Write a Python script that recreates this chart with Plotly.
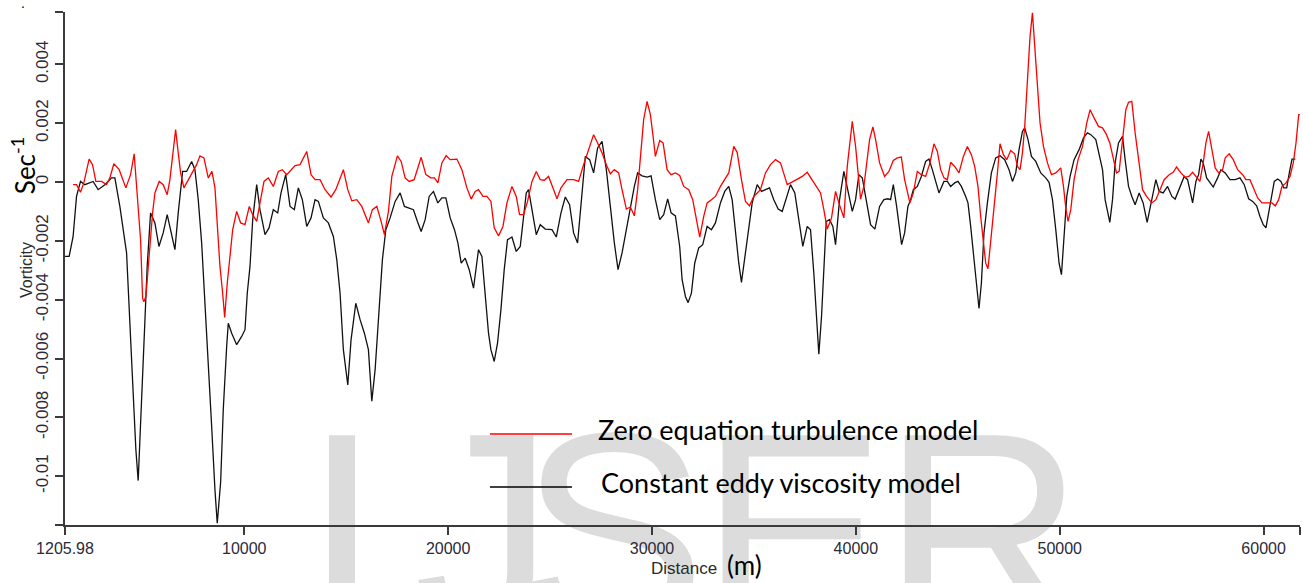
import plotly.graph_objects as go

# Vorticity (s^-1) along the reach, plotted against distance (m)
black_distance = [
    1206, 1408, 1604, 1771, 1967, 2179, 2586, 2832, 3161, 3490,
    3652, 3897, 4226, 4388, 4550, 4683, 4796, 4963, 5125, 5237,
    5404, 5616, 5812, 6023, 6219, 6436, 6598, 6760, 6976, 7172,
    7418, 7580, 7742, 7909, 8071, 8233, 8400, 8562, 8674, 8841,
    8969, 9136, 9215, 9382, 9627, 9873, 10035, 10147, 10280, 10413,
    10609, 10771, 11017, 11213, 11424, 11640, 11802, 12033, 12244, 12455,
    12652, 12848, 13064, 13275, 13472, 13634, 13879, 14125, 14370, 14537,
    14699, 14861, 15077, 15239, 15470, 15681, 15892, 16089, 16256, 16418,
    16550, 16663, 16776, 16943, 17154, 17400, 17645, 17856, 18087, 18298,
    18494, 18676, 18873, 19069, 19280, 19496, 19693, 19889, 20100, 20311,
    20478, 20640, 20837, 21033, 21244, 21490, 21657, 21819, 21981, 22098,
    22260, 22422, 22589, 22751, 22913, 23130, 23341, 23537, 23670, 23832,
    23945, 24112, 24323, 24519, 24765, 25094, 25305, 25535, 25747, 25958,
    26154, 26350, 26532, 26729, 26940, 27136, 27332, 27549, 27760, 27956,
    28152, 28334, 28531, 28742, 28938, 29134, 29296, 29513, 29758, 29954,
    30166, 30377, 30573, 30769, 30936, 31148, 31359, 31477, 31639, 31771,
    31933, 32095, 32292, 32488, 32704, 32915, 33112, 33357, 33568, 33765,
    33932, 34094, 34256, 34388, 34585, 34747, 34914, 35159, 35370, 35567,
    35763, 35974, 36190, 36387, 36632, 36794, 37005, 37172, 37398, 37614,
    37776, 37938, 38071, 38184, 38316, 38429, 38547, 38709, 38871, 39004,
    39200, 39411, 39578, 39824, 39986, 40148, 40315, 40511, 40722, 40933,
    41164, 41375, 41571, 41704, 41837, 41999, 42112, 42244, 42391, 42553,
    42686, 42819, 43015, 43211, 43423, 43585, 43752, 43914, 44076, 44321,
    44488, 44650, 44846, 45008, 45175, 45387, 45499, 45632, 45765, 45878,
    45961, 46040, 46157, 46285, 46452, 46648, 46860, 47071, 47301, 47513,
    47680, 47842, 48004, 48171, 48283, 48445, 48612, 48824, 49069, 49315,
    49477, 49644, 49806, 49968, 50085, 50213, 50346, 50508, 50704, 50950,
    51166, 51362, 51524, 51770, 51932, 52099, 52226, 52359, 52457, 52590,
    52717, 52884, 53081, 53208, 53375, 53537, 53699, 53896, 54092, 54288,
    54470, 54716, 54878, 55074, 55290, 55501, 55663, 55894, 56105, 56272,
    56518, 56680, 56812, 56925, 57038, 57205, 57367, 57529, 57745, 57907,
    58118, 58349, 58609, 58840, 59051, 59267, 59464, 59660, 59822, 59984,
    60117, 60249, 60362, 60524, 60691, 60853, 60986, 61133, 61261, 61393,
    61555,
]
black_vorticity = [
    -2.53e-3, -2.53e-3, -1.85e-3, -0.49e-3, 0.02e-3, -0.09e-3, 0.02e-3, -0.26e-3, -0.09e-3, 0.14e-3,
    0.14e-3, -0.83e-3, -2.41e-3, -4.57e-3, -7.17e-3, -9.1e-3, -10.15e-3, -7.4e-3, -4.57e-3, -2.87e-3,
    -1.05e-3, -1.39e-3, -2.19e-3, -1.73e-3, -1.11e-3, -1.73e-3, -2.3e-3, -1.05e-3, 0.36e-3, 0.36e-3,
    0.70e-3, 0.42e-3, -0.60e-3, -2.07e-3, -4.0e-3, -6.04e-3, -8.31e-3, -10.47e-3, -11.6e-3, -10.2e-3,
    -7.74e-3, -5.59e-3, -4.80e-3, -5.14e-3, -5.53e-3, -5.25e-3, -5.02e-3, -3.78e-3, -2.87e-3, -1.28e-3,
    -0.09e-3, -0.94e-3, -1.79e-3, -1.56e-3, -0.94e-3, -1.05e-3, -0.37e-3, 0.25e-3, -0.83e-3, -0.94e-3,
    -0.20e-3, -0.60e-3, -1.51e-3, -1.22e-3, -0.60e-3, -0.66e-3, -1.22e-3, -1.39e-3, -1.85e-3, -2.64e-3,
    -3.78e-3, -5.70e-3, -6.9e-3, -5.36e-3, -4.12e-3, -4.68e-3, -5.14e-3, -5.70e-3, -7.45e-3, -6.38e-3,
    -4.91e-3, -3.78e-3, -2.64e-3, -1.62e-3, -1.22e-3, -0.66e-3, -0.37e-3, -0.83e-3, -0.88e-3, -0.94e-3,
    -1.34e-3, -1.68e-3, -1.28e-3, -0.49e-3, -0.32e-3, -0.71e-3, -0.54e-3, -0.54e-3, -1.22e-3, -1.62e-3,
    -2.07e-3, -2.76e-3, -2.59e-3, -2.98e-3, -3.61e-3, -2.30e-3, -2.53e-3, -3.89e-3, -5.14e-3, -5.70e-3,
    -6.1e-3, -5.48e-3, -4.34e-3, -2.98e-3, -1.96e-3, -1.87e-3, -2.36e-3, -2.19e-3, -1.28e-3, -0.37e-3,
    -0.26e-3, -0.94e-3, -1.79e-3, -1.45e-3, -1.60e-3, -1.62e-3, -1.87e-3, -1.05e-3, -0.51e-3, -0.77e-3,
    -1.73e-3, -2.07e-3, -0.60e-3, 0.87e-3, 0.76e-3, 0.31e-3, 1.16e-3, 1.38e-3, 0.42e-3, -0.83e-3,
    -2.07e-3, -2.98e-3, -2.41e-3, -1.62e-3, -0.83e-3, -0.15e-3, 0.31e-3, 0.21e-3, 0.17e-3, 0.21e-3,
    -0.60e-3, -1.28e-3, -1.11e-3, -0.57e-3, -1.05e-3, -1.15e-3, -2.2e-3, -3.32e-3, -3.89e-3, -4.1e-3,
    -3.78e-3, -2.76e-3, -2.24e-3, -2.13e-3, -1.51e-3, -1.62e-3, -1.39e-3, -0.71e-3, -0.32e-3, -0.15e-3,
    -0.60e-3, -1.73e-3, -2.76e-3, -3.41e-3, -2.41e-3, -1.51e-3, -0.71e-3, -0.09e-3, -0.32e-3, -0.26e-3,
    -0.20e-3, -0.60e-3, -0.92e-3, -1.0e-3, -0.49e-3, -0.09e-3, -0.37e-3, -1.17e-3, -2.19e-3, -1.51e-3,
    -1.62e-3, -3.10e-3, -4.68e-3, -5.85e-3, -4.57e-3, -2.98e-3, -1.34e-3, -1.28e-3, -1.51e-3, -2.13e-3,
    -0.60e-3, 0.36e-3, -0.15e-3, -1.0e-3, -0.60e-3, 0.25e-3, 0.14e-3, -0.60e-3, -1.45e-3, -1.60e-3,
    -0.83e-3, -0.60e-3, -0.57e-3, -0.60e-3, -0.09e-3, -0.83e-3, -1.51e-3, -2.13e-3, -1.73e-3, -0.83e-3,
    -0.60e-3, -0.26e-3, -0.15e-3, 0.19e-3, 0.70e-3, 0.78e-3, 0.42e-3, 0.02e-3, -0.37e-3, 0.02e-3,
    0.02e-3, -0.15e-3, -0.03e-3, 0.02e-3, -0.15e-3, -0.49e-3, -0.71e-3, -1.51e-3, -2.41e-3, -3.21e-3,
    -3.78e-3, -4.3e-3, -3.44e-3, -1.73e-3, -0.71e-3, 0.31e-3, 0.82e-3, 0.89e-3, 0.76e-3, 0.42e-3,
    0.02e-3, 0.31e-3, 1.10e-3, 1.72e-3, 1.84e-3, 1.44e-3, 0.87e-3, 0.70e-3, 0.31e-3, 0.14e-3,
    -0.01e-3, -0.60e-3, -1.62e-3, -2.76e-3, -3.15e-3, -1.96e-3, -0.49e-3, 0.19e-3, 0.76e-3, 1.10e-3,
    1.50e-3, 1.67e-3, 1.61e-3, 1.44e-3, 0.99e-3, 0.42e-3, -0.60e-3, -1.05e-3, -1.37e-3, -0.60e-3,
    0.65e-3, 1.33e-3, 1.55e-3, 0.76e-3, -0.15e-3, -0.49e-3, -0.77e-3, -0.37e-3, -0.71e-3, -1.37e-3,
    -0.71e-3, 0.08e-3, -0.32e-3, -0.37e-3, -0.15e-3, -0.49e-3, -0.58e-3, -0.20e-3, 0.19e-3, 0.08e-3,
    -0.71e-3, 0.02e-3, 0.25e-3, 0.78e-3, 0.65e-3, 0.14e-3, -0.03e-3, -0.17e-3, 0.14e-3, 0.42e-3,
    0.31e-3, 0.08e-3, 0.08e-3, 0.14e-3, -0.09e-3, -0.57e-3, -0.66e-3, -0.81e-3, -1.17e-3, -1.45e-3,
    -1.56e-3, -1.05e-3, -0.49e-3, 0.02e-3, 0.10e-3, 0.02e-3, -0.20e-3, -0.20e-3, 0.31e-3, 0.78e-3,
    0.78e-3,
]

red_distance = [
    1604, 1771, 1967, 2129, 2390, 2557, 2719, 2998, 3244, 3406,
    3602, 3863, 4192, 4422, 4599, 4796, 4913, 5012, 5075, 5174,
    5336, 5503, 5616, 5827, 6023, 6219, 6352, 6514, 6632, 6760,
    6877, 7039, 7300, 7496, 7663, 7825, 8021, 8233, 8414, 8562,
    8674, 8807, 8940, 9038, 9165, 9332, 9431, 9627, 9823, 10035,
    10246, 10413, 10609, 10771, 10967, 11179, 11424, 11670, 11866, 12082,
    12293, 12490, 12735, 13064, 13275, 13472, 13717, 13963, 14257, 14488,
    14861, 15077, 15274, 15519, 15765, 16089, 16285, 16501, 16712, 16874,
    17071, 17238, 17512, 17694, 17891, 18087, 18332, 18676, 18907, 19152,
    19329, 19496, 19693, 19904, 20100, 20429, 20675, 20920, 21131, 21328,
    21490, 21706, 21902, 22098, 22260, 22472, 22688, 22884, 23130, 23341,
    23503, 23699, 23895, 24112, 24323, 24519, 24715, 24927, 25143, 25339,
    25535, 25830, 26154, 26400, 26616, 26841, 27136, 27332, 27549, 27760,
    27956, 28152, 28364, 28531, 28742, 28938, 29134, 29296, 29463, 29591,
    29758, 29920, 30053, 30166, 30377, 30544, 30740, 30936, 31148, 31359,
    31555, 31801, 31997, 32164, 32341, 32537, 32704, 32915, 33112, 33357,
    33568, 33765, 34010, 34177, 34388, 34585, 34781, 34992, 35321, 35567,
    35812, 36058, 36303, 36465, 36632, 36843, 37074, 37369, 37614, 37860,
    38105, 38267, 38429, 38596, 38807, 39004, 39166, 39411, 39578, 39740,
    39824, 39986, 40118, 40231, 40393, 40560, 40673, 40835, 40968, 41164,
    41409, 41621, 41837, 42033, 42229, 42391, 42524, 42652, 42819, 43015,
    43211, 43423, 43634, 43830, 43997, 44159, 44321, 44488, 44650, 44846,
    45058, 45274, 45470, 45666, 45828, 45990, 46123, 46256, 46369, 46481,
    46614, 46776, 46943, 47071, 47238, 47400, 47596, 47792, 47925, 48053,
    48171, 48283, 48416, 48544, 48661, 48774, 48907, 49035, 49202, 49398,
    49594, 49806, 50051, 50184, 50297, 50409, 50542, 50704, 50900, 51117,
    51328, 51490, 51686, 51902, 52099, 52295, 52457, 52619, 52786, 52914,
    53081, 53243, 53375, 53537, 53699, 53866, 54063, 54259, 54519, 54716,
    54912, 55123, 55369, 55565, 55732, 55943, 56154, 56351, 56518, 56680,
    56876, 57038, 57171, 57303, 57465, 57627, 57794, 57991, 58118, 58315,
    58511, 58727, 58973, 59135, 59331, 59542, 59709, 59920, 60200, 60411,
    60573, 60740, 60902, 61099, 61295, 61457, 61590, 61722, 61780,
]
red_vorticity = [
    -0.09e-3, -0.09e-3, -0.35e-3, -0.03e-3, 0.78e-3, 0.59e-3, 0.02e-3, 0.02e-3, -0.09e-3, 0.14e-3,
    0.62e-3, 0.42e-3, -0.20e-3, 0.25e-3, 0.96e-3, -0.71e-3, -1.96e-3, -3.95e-3, -4.07e-3, -3.89e-3,
    -2.41e-3, -1.05e-3, -0.37e-3, 0.02e-3, -0.09e-3, -0.43e-3, 0.08e-3, 1.21e-3, 1.78e-3, 0.99e-3,
    0.31e-3, -0.20e-3, 0.14e-3, 0.36e-3, 0.59e-3, 0.89e-3, 0.82e-3, 0.14e-3, 0.36e-3, -0.20e-3,
    -1.51e-3, -2.87e-3, -3.78e-3, -4.6e-3, -3.44e-3, -2.30e-3, -1.62e-3, -1.0e-3, -1.39e-3, -1.45e-3,
    -0.83e-3, -1.11e-3, -1.34e-3, -0.71e-3, 0.02e-3, 0.14e-3, -0.15e-3, 0.36e-3, 0.42e-3, 0.25e-3,
    0.42e-3, 0.56e-3, 0.59e-3, 1.04e-3, 0.25e-3, 0.08e-3, 0.08e-3, -0.26e-3, -0.51e-3, -0.26e-3,
    0.42e-3, -0.26e-3, -0.64e-3, -0.60e-3, -0.83e-3, -1.39e-3, -0.94e-3, -0.83e-3, -1.34e-3, -1.79e-3,
    -1.0e-3, 0.19e-3, 0.89e-3, 0.70e-3, 0.14e-3, 0.02e-3, 0.08e-3, 0.84e-3, 0.25e-3, 0.14e-3,
    0.14e-3, -0.03e-3, 0.65e-3, 0.90e-3, 0.76e-3, 0.78e-3, 0.42e-3, -0.20e-3, -0.58e-3, -0.32e-3,
    -0.26e-3, -0.49e-3, -0.49e-3, -0.66e-3, -1.56e-3, -1.83e-3, -1.51e-3, -0.71e-3, -0.15e-3, -0.49e-3,
    -1.11e-3, -1.11e-3, -0.66e-3, 0.02e-3, 0.36e-3, 0.08e-3, 0.06e-3, 0.19e-3, -0.20e-3, -0.57e-3,
    -0.20e-3, 0.08e-3, 0.08e-3, 0.02e-3, 0.53e-3, 0.99e-3, 1.61e-3, 1.33e-3, 0.99e-3, 0.59e-3,
    0.28e-3, 0.42e-3, 0.31e-3, -0.26e-3, -0.92e-3, -0.85e-3, -1.15e-3, -0.26e-3, 1.10e-3, 2.12e-3,
    2.74e-3, 2.29e-3, 1.55e-3, 0.87e-3, 1.41e-3, 1.33e-3, 0.42e-3, 0.25e-3, 0.31e-3, 0.22e-3,
    -0.15e-3, -0.26e-3, -0.60e-3, -1.28e-3, -1.87e-3, -1.17e-3, -0.71e-3, -0.60e-3, -0.49e-3, -0.15e-3,
    0.08e-3, 0.31e-3, 1.21e-3, 1.01e-3, 0.08e-3, -0.66e-3, -0.81e-3, -0.49e-3, -0.26e-3, 0.31e-3,
    0.59e-3, 0.76e-3, 0.65e-3, 0.31e-3, -0.09e-3, -0.01e-3, 0.08e-3, 0.19e-3, 0.33e-3, 0.08e-3,
    -0.20e-3, -0.37e-3, -0.94e-3, -1.60e-3, -1.22e-3, -0.32e-3, -0.71e-3, -1.22e-3, 0.53e-3, 1.55e-3,
    2.06e-3, 1.21e-3, 0.31e-3, -0.58e-3, -0.15e-3, 0.87e-3, 1.44e-3, 1.87e-3, 1.44e-3, 0.65e-3,
    0.19e-3, 0.36e-3, 0.73e-3, 0.82e-3, 0.85e-3, 0.08e-3, -0.37e-3, -0.71e-3, -0.37e-3, 0.36e-3,
    0.25e-3, 0.19e-3, 0.65e-3, 1.30e-3, 1.04e-3, 0.42e-3, 0.14e-3, 0.08e-3, 0.67e-3, 0.53e-3,
    0.31e-3, 0.87e-3, 1.21e-3, 0.93e-3, 0.53e-3, -0.15e-3, -1.17e-3, -2.07e-3, -2.76e-3, -2.95e-3,
    -2.07e-3, -0.83e-3, 0.31e-3, 1.30e-3, 0.93e-3, 0.76e-3, 1.07e-3, 0.96e-3, 0.53e-3, 0.42e-3,
    0.99e-3, 1.89e-3, 3.37e-3, 4.95e-3, 5.75e-3, 4.50e-3, 3.14e-3, 2.01e-3, 1.21e-3, 0.65e-3,
    0.25e-3, 0.31e-3, 0.48e-3, -0.15e-3, -0.88e-3, -1.34e-3, -0.94e-3, 0.08e-3, 0.76e-3, 1.21e-3,
    2.01e-3, 2.46e-3, 2.18e-3, 1.89e-3, 1.84e-3, 1.61e-3, 1.33e-3, 0.87e-3, 0.31e-3, 0.36e-3,
    1.44e-3, 2.46e-3, 2.71e-3, 2.74e-3, 1.67e-3, 0.76e-3, -0.26e-3, -0.49e-3, -0.71e-3, -0.60e-3,
    -0.26e-3, 0.08e-3, 0.25e-3, 0.33e-3, 0.51e-3, 0.31e-3, 0.16e-3, 0.20e-3, 0.33e-3, 0.19e-3,
    0.02e-3, 0.65e-3, 1.33e-3, 1.72e-3, 1.10e-3, 0.48e-3, 0.31e-3, 0.42e-3, 0.82e-3, 0.96e-3,
    0.76e-3, 0.42e-3, 0.25e-3, 0.08e-3, 0.08e-3, -0.26e-3, -0.54e-3, -0.71e-3, -0.71e-3, -0.71e-3,
    -0.81e-3, -0.60e-3, -0.15e-3, -0.03e-3, 0.19e-3, 0.65e-3, 1.33e-3, 2.29e-3, 2.29e-3,
]

series_names = ["Zero equation turbulence model", "Constant eddy viscosity model"]

x_range = [1205.98, 61786]
y_range = [-0.01166, 0.00578]
x_ticks = [1205.98, 10000, 20000, 30000, 40000, 50000, 60000]
x_tick_labels = ["1205.98", "10000", "20000", "30000", "40000", "50000", "60000"]
y_ticks = [-0.01, -0.008, -0.006, -0.004, -0.002, 0, 0.002, 0.004]
y_tick_labels = ["-0.01", "-0.008", "-0.006", "-0.004", "-0.002", "0", "0.002", "0.004"]

AXIS_COLOR = "#3a3a3a"
TICK_FONT = "Liberation Sans, Arial, sans-serif"
LABEL_FONT = "Lato, Open Sans, sans-serif"

fig = go.Figure()

# model curves
fig.add_trace(go.Scatter(
    x=black_distance, y=black_vorticity, mode="lines",
    line=dict(color="#111111", width=1.3), name=series_names[1],
    showlegend=False,
))
fig.add_trace(go.Scatter(
    x=red_distance, y=red_vorticity, mode="lines",
    line=dict(color="#ff0000", width=1.3), name=series_names[0],
    showlegend=False,
))

# background lettering on a unit overlay; each anchor stays inside the overlay
# range and the glyph hangs below it, spilling past the x axis
mark_letters = ["I", "J", "S", "E", "R"]
mark_x = [0.2243, 0.3393, 0.4437, 0.5895, 0.7433]
fig.add_trace(go.Scatter(
    x=mark_x, y=[0.209] * len(mark_letters), mode="text", text=mark_letters,
    textposition="bottom center",
    textfont=dict(family="Liberation Sans, Arial, sans-serif", size=280, color="#dcdcdc"),
    xaxis="x2", yaxis="y2", cliponaxis=False, hoverinfo="skip", showlegend=False,
))

# hand-placed key samples
key_x = [0.3441, 0.4105]
fig.add_trace(go.Scatter(
    x=key_x, y=[0.1774, 0.1774], mode="lines",
    line=dict(color="#ff0000", width=1.5),
    xaxis="x2", yaxis="y2", cliponaxis=False, hoverinfo="skip", showlegend=False,
))
fig.add_trace(go.Scatter(
    x=key_x, y=[0.0741, 0.0741], mode="lines",
    line=dict(color="#000000", width=1.5),
    xaxis="x2", yaxis="y2", cliponaxis=False, hoverinfo="skip", showlegend=False,
))

annotations = [
    dict(text=series_names[0], x=0.4300, y=0.1852, xanchor="left", yanchor="middle",
         font=dict(family=LABEL_FONT, size=27, color="#000000")),
    dict(text=series_names[1], x=0.4325, y=0.0838, xanchor="left", yanchor="middle",
         font=dict(family=LABEL_FONT, size=27, color="#000000")),
    dict(text="Vorticity", x=-0.0316, y=0.497, textangle=-90,
         xanchor="center", yanchor="middle",
         font=dict(family=TICK_FONT, size=16, color="#2a2a2a")),
    dict(text="Sec<sup>-1</sup>", x=-0.0330, y=0.70, textangle=-90,
         xanchor="center", yanchor="middle",
         font=dict(family=LABEL_FONT, size=26, color="#000000")),
    dict(text="Distance", x=0.5012, y=-0.084, xanchor="center", yanchor="middle",
         font=dict(family=TICK_FONT, size=17, color="#2a2a2a")),
    dict(text="(m)", x=0.5506, y=-0.078, xanchor="center", yanchor="middle",
         font=dict(family=LABEL_FONT, size=26, color="#000000")),
    dict(text=".", x=-0.034, y=0.998, xanchor="center", yanchor="bottom",
         font=dict(family=TICK_FONT, size=14, color="#000000")),
]
for a in annotations:
    a.update(xref="paper", yref="paper", showarrow=False)

fig.update_layout(
    width=1303, height=583,
    margin=dict(l=65, r=3, t=12, b=58),
    paper_bgcolor="white", plot_bgcolor="white",
    showlegend=False,
    annotations=annotations,
    xaxis=dict(
        range=x_range, showgrid=False, zeroline=False,
        showline=True, linecolor=AXIS_COLOR, linewidth=2,
        ticks="outside", ticklen=8, tickwidth=1.5, tickcolor=AXIS_COLOR,
        tickmode="array",
        tickvals=x_ticks + [x_range[1]],
        ticktext=x_tick_labels + [""],
        tickfont=dict(family=TICK_FONT, size=16, color="#2a2a3a"),
    ),
    yaxis=dict(
        range=y_range, showgrid=False, zeroline=False,
        showline=True, linecolor=AXIS_COLOR, linewidth=2,
        ticks="outside", ticklen=8, tickwidth=1.5, tickcolor=AXIS_COLOR,
        tickmode="array",
        tickvals=[y_range[0]] + y_ticks + [y_range[1]],
        ticktext=[""] + y_tick_labels + [""],
        tickangle=-90,
        tickfont=dict(family=TICK_FONT, size=17, color="#2a2a3a"),
    ),
    xaxis2=dict(overlaying="x", range=[0, 1], visible=False, fixedrange=True),
    yaxis2=dict(overlaying="y", range=[0, 1], visible=False, fixedrange=True),
)

fig.write_html("out.html", config={"displayModeBar": False})
